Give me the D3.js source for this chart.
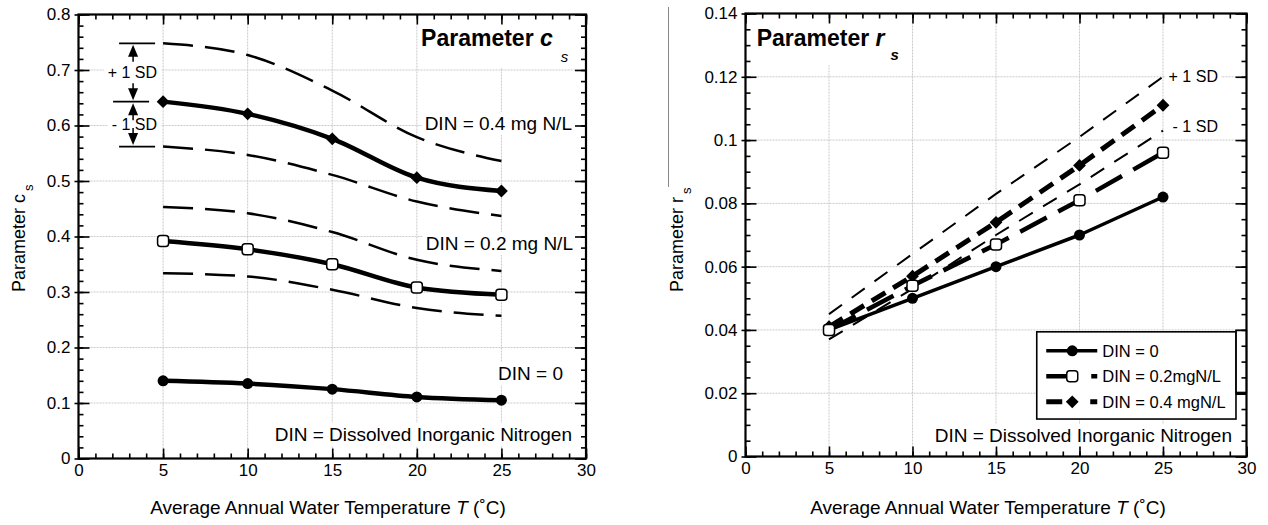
<!DOCTYPE html>
<html><head><meta charset="utf-8">
<script src="https://cdn.jsdelivr.net/npm/d3@7"></script>
<style>body{margin:0;background:#fff} svg{display:block;font-family:"Liberation Sans",Arial,Helvetica,sans-serif}</style>
</head><body><svg id="c" width="1268" height="525"></svg>
<script>
// ---------- data ----------
const temps = [5, 10, 15, 20, 25];
const xTicks = [0, 5, 10, 15, 20, 25, 30];
const xTickLabels = ["0", "5", "10", "15", "20", "25", "30"];

// Parameter c_s
const csTicks = [0, 0.1, 0.2, 0.3, 0.4, 0.5, 0.6, 0.7, 0.8];
const csTickLabels = ["0", "0.1", "0.2", "0.3", "0.4", "0.5", "0.6", "0.7", "0.8"];
const cs_din0 = [0.140, 0.135, 0.125, 0.111, 0.105];
const cs_din02 = [0.392, 0.377, 0.350, 0.308, 0.295];
const cs_din02_hi = [0.453, 0.442, 0.408, 0.358, 0.338];
const cs_din02_lo = [0.334, 0.328, 0.304, 0.271, 0.257];
const cs_din04 = [0.643, 0.621, 0.576, 0.506, 0.482];
const cs_din04_hi = [0.748, 0.727, 0.663, 0.579, 0.536];
const cs_din04_lo = [0.562, 0.547, 0.511, 0.463, 0.437];

// Parameter r_s
const rsTicks = [0, 0.02, 0.04, 0.06, 0.08, 0.1, 0.12, 0.14];
const rsTickLabels = ["0", "0.02", "0.04", "0.06", "0.08", "0.1", "0.12", "0.14"];
const rs_din0 = [0.040, 0.050, 0.060, 0.070, 0.082];
const rs_din02 = [0.040, 0.054, 0.067, 0.081, 0.096];
const rs_din04 = [0.041, 0.057, 0.074, 0.092, 0.111];
const rs_din04_hi = [0.045, 0.064, 0.083, 0.101, 0.120];
const rs_din04_lo = [0.037, 0.053, 0.070, 0.086, 0.103];
const legendLabels = ["DIN = 0", "DIN = 0.2mgN/L", "DIN = 0.4 mgN/L"];

// ---------- drawing ----------
const svg = d3.select("#c");
const FONT = '"Liberation Sans",Arial,Helvetica,sans-serif';

function panel(o) {
  const x = d3.scaleLinear().domain([0, 30]).range([o.x0, o.x1]);
  const y = d3.scaleLinear().domain([0, o.ymax]).range([o.y1, o.y0]);
  const g = svg.append("g");
  const grid = g.append("g").attr("stroke", "#c9c9c9").attr("stroke-width", 1).attr("stroke-dasharray", "2,1");
  grid.selectAll("line.v").data(xTicks.slice(1, -1)).join("line")
    .attr("x1", d => x(d)).attr("x2", d => x(d)).attr("y1", o.y0).attr("y2", o.y1);
  grid.selectAll("line.h").data(o.yTicks.slice(1, -1)).join("line")
    .attr("y1", d => y(d)).attr("y2", d => y(d)).attr("x1", o.x0).attr("x2", o.x1);
  const layers = {
    bg: g.append("g"), data: g.append("g"), marks: g.append("g"), text: g.append("g"), axes: g.append("g")
  };
  return { g, x, y, o, ...layers };
}

function axes(p, yTicks, yLabels, yMinor) {
  const { x, y, o } = p;
  const xMinor = d3.range(0, 31, 1);
  const A = p.axes;
  const style = sel => { sel.select(".domain").remove(); sel.selectAll("line").attr("stroke", "#000").attr("stroke-width", 1.6);
    sel.attr("font-family", FONT).attr("font-size", 17); sel.selectAll("text").attr("fill", "#000"); };
  // bottom
  A.append("g").attr("transform", `translate(0,${o.y1})`)
    .call(d3.axisBottom(x).tickValues(xMinor).tickSizeInner(-5).tickSizeOuter(0).tickFormat(""))
    .call(style);
  A.append("g").attr("transform", `translate(0,${o.y1})`)
    .call(d3.axisBottom(x).tickValues(xTicks).tickSizeInner(-10).tickSizeOuter(0).tickPadding(5)
      .tickFormat((d, i) => xTickLabels[i]))
    .call(style);
  // top
  A.append("g").attr("transform", `translate(0,${o.y0})`)
    .call(d3.axisTop(x).tickValues(xMinor).tickSizeInner(-5).tickSizeOuter(0).tickFormat("")).call(style);
  A.append("g").attr("transform", `translate(0,${o.y0})`)
    .call(d3.axisTop(x).tickValues(xTicks).tickSizeInner(-10).tickSizeOuter(0).tickFormat("")).call(style);
  // left
  A.append("g").attr("transform", `translate(${o.x0},0)`)
    .call(d3.axisLeft(y).tickValues(yMinor).tickSizeInner(-5).tickSizeOuter(0).tickFormat("")).call(style);
  A.append("g").attr("transform", `translate(${o.x0},0)`)
    .call(d3.axisLeft(y).tickValues(yTicks).tickSizeInner(-11).tickSizeOuter(0).tickPadding(8)
      .tickFormat((d, i) => yLabels[i]))
    .call(style);
  A.append("g").attr("transform", `translate(${o.x0},0)`)
    .call(d3.axisLeft(y).tickValues(yTicks).tickSizeInner(4).tickSizeOuter(0).tickFormat("")).call(style);
  // right
  A.append("g").attr("transform", `translate(${o.x1},0)`)
    .call(d3.axisRight(y).tickValues(yMinor).tickSizeInner(-5).tickSizeOuter(0).tickFormat("")).call(style);
  A.append("g").attr("transform", `translate(${o.x1},0)`)
    .call(d3.axisRight(y).tickValues(yTicks).tickSizeInner(-11).tickSizeOuter(0).tickFormat("")).call(style);
  A.append("rect").attr("x", o.x0).attr("y", o.y0).attr("width", o.x1 - o.x0).attr("height", o.y1 - o.y0)
    .attr("fill", "none").attr("stroke", "#000").attr("stroke-width", 2.2);
}

function label(p, xs, ys, parts, opt) {
  const t = p.text.append("text").attr("x", xs).attr("y", ys).attr("font-size", opt.size || 19)
    .attr("text-anchor", opt.anchor || "start").attr("fill", "#000");
  parts.forEach(pt => {
    const ts = t.append("tspan").text(pt.t);
    if (pt.w) ts.attr("font-weight", pt.w);
    if (pt.i) ts.attr("font-style", "italic");
    if (pt.s) ts.attr("font-size", pt.s);
    if (pt.dy) ts.attr("dy", pt.dy);
    if (pt.dx) ts.attr("dx", pt.dx);
  });
  const b = t.node().getBBox();
  const pad = opt.pad || [3, 1];
  p.bg.append("rect").attr("x", b.x - pad[0]).attr("y", b.y - pad[1])
    .attr("width", b.width + 2 * pad[0]).attr("height", b.height + 2 * pad[1]).attr("fill", "#fff");
  return t;
}

function series(p, vals, st, curve) {
  const line = d3.line().x((d, i) => p.x(temps[i])).y(d => p.y(d)).curve(curve);
  p.data.append("path").attr("d", line(vals)).attr("fill", "none").attr("stroke", "#000")
    .attr("stroke-width", st.w).attr("stroke-dasharray", st.dash || null).attr("stroke-linejoin", "round");
}

function marker(sel, type, cx, cy) {
  if (type === "circle") sel.append("circle").attr("cx", cx).attr("cy", cy).attr("r", 5.5).attr("fill", "#000");
  else if (type === "diamond") sel.append("path").attr("d", d3.symbol(d3.symbolSquare, 82)())
    .attr("transform", `translate(${cx},${cy}) rotate(45)`).attr("fill", "#000");
  else sel.append("rect").attr("x", cx - 5.5).attr("y", cy - 5.5).attr("width", 11).attr("height", 11).attr("rx", 3)
    .attr("fill", "#fff").attr("stroke", "#000").attr("stroke-width", 1.5);
}
function markers(p, vals, type) {
  vals.forEach((v, i) => marker(p.marks, type, p.x(temps[i]), p.y(v)));
}

// ===== Left panel: Parameter c_s =====
const L = panel({ x0: 78.5, x1: 586, y0: 14.5, y1: 458.5, ymax: 0.8, yTicks: csTicks });
const smooth = d3.curveMonotoneX;
const sd = { w: 2.5, dash: "30,12" };
series(L, cs_din04_hi, sd, smooth); series(L, cs_din04_lo, sd, smooth);
series(L, cs_din02_hi, sd, smooth); series(L, cs_din02_lo, sd, smooth);
series(L, cs_din04, { w: 4.5 }, smooth);
series(L, cs_din02, { w: 4.5 }, smooth);
series(L, cs_din0, { w: 4.5 }, smooth);
markers(L, cs_din04, "diamond"); markers(L, cs_din02, "square"); markers(L, cs_din0, "circle");

label(L, L.x(20.25), L.y(0.7438), [{ t: "Parameter ", w: "bold" }, { t: "c", w: "bold", i: 1 }, { t: "s", i: 1, s: 15, dy: 16, dx: 8 }],
  { size: 23, pad: [2, 3] });
label(L, L.x(29.17), L.y(0.592), [{ t: "DIN = 0.4 mg N/L" }], { anchor: "end" });
label(L, L.x(29.23), L.y(0.3757), [{ t: "DIN = 0.2 mg N/L" }], { anchor: "end" });
label(L, L.x(28.64), L.y(0.1414), [{ t: "DIN = 0" }], { anchor: "end" });
label(L, L.x(29.17), L.y(0.0315), [{ t: "DIN = Dissolved Inorganic Nitrogen" }], { anchor: "end" });

// SD annotation at T = 5
(function () {
  const x5 = L.x(temps[0]);
  const yTop = L.y(cs_din04_hi[0]), yMid = L.y(cs_din04[0]), yLow = L.y(cs_din04_lo[0]);
  const A = L.marks.append("g").attr("stroke", "#000").attr("fill", "#000");
  A.append("line").attr("x1", x5 - 44).attr("x2", x5 - 8).attr("y1", yTop).attr("y2", yTop).attr("stroke-width", 1.8);
  A.append("line").attr("x1", x5 - 50).attr("x2", x5 - 14).attr("y1", yMid).attr("y2", yMid).attr("stroke-width", 1.8);
  A.append("line").attr("x1", x5 - 44).attr("x2", x5 - 8).attr("y1", yLow).attr("y2", yLow).attr("stroke-width", 1.8);
  const ax = x5 - 30;
  const up = tip => { A.append("path").attr("d", `M${ax},${tip}L${ax - 5},${tip + 12}L${ax + 5},${tip + 12}Z`).attr("stroke", "none");
    A.append("line").attr("x1", ax).attr("x2", ax).attr("y1", tip + 10).attr("y2", tip + 17).attr("stroke-width", 1.5); };
  const down = tip => { A.append("path").attr("d", `M${ax},${tip}L${ax - 5},${tip - 12}L${ax + 5},${tip - 12}Z`).attr("stroke", "none");
    A.append("line").attr("x1", ax).attr("x2", ax).attr("y1", tip - 10).attr("y2", tip - 17).attr("stroke-width", 1.5); };
  up(yTop + 1.5); down(yMid - 1.5); up(yMid + 1.5); down(yLow - 1.5);
  label(L, x5 - 6, (yTop + yMid) / 2 + 5.8, [{ t: "+ 1 SD" }], { anchor: "end", size: 16, pad: [4, 1] });
  label(L, x5 - 6, (yMid + yLow) / 2 + 5.8, [{ t: "- 1 SD" }], { anchor: "end", size: 16, pad: [4, 1] });
})();

axes(L, csTicks, csTickLabels, d3.range(0, 41).map(i => i * 0.02));
svg.append("text").attr("transform", "translate(25,292) rotate(-90)").attr("font-size", 18).attr("fill", "#000")
  .call(t => { t.append("tspan").text("Parameter c"); t.append("tspan").text("s").attr("font-size", 13).attr("dx", 3).attr("dy", 8); });
svg.append("text").attr("x", 328).attr("y", 514).attr("text-anchor", "middle").attr("font-size", 19).attr("fill", "#000")
  .call(t => { t.append("tspan").text("Average Annual Water Temperature "); t.append("tspan").text("T").attr("font-style", "italic");
    t.append("tspan").text(" (˚C)"); });

// ===== Right panel: Parameter r_s =====
const R = panel({ x0: 745.5, x1: 1246.5, y0: 13.5, y1: 456.5, ymax: 0.14, yTicks: rsTicks });
const lin = d3.curveLinear;
const st0 = { w: 3.5 }, st02 = { w: 4.5, dash: "30,13" }, st04 = { w: 5, dash: "16,9" }, stsd = { w: 2, dash: "16,12" };
series(R, rs_din04_hi, stsd, lin); series(R, rs_din04_lo, stsd, lin);
series(R, rs_din0, st0, lin);
series(R, rs_din02, st02, lin);
series(R, rs_din04, st04, lin);
markers(R, rs_din0, "circle"); markers(R, rs_din04, "diamond"); markers(R, rs_din02, "square");

label(R, R.x(0.67), R.y(0.1297), [{ t: "Parameter ", w: "bold" }, { t: "r", w: "bold", i: 1 }, { t: "s", w: "bold", i: 1, s: 15, dy: 14, dx: 6 }],
  { size: 23, pad: [8, 2] });
label(R, R.x(28.29), R.y(0.1183), [{ t: "+ 1 SD" }], { anchor: "end", size: 16, pad: [3, 3] });
label(R, R.x(28.29), R.y(0.1025), [{ t: "- 1 SD" }], { anchor: "end", size: 16, pad: [3, 3] });
label(R, R.x(29.13), R.y(0.00458), [{ t: "DIN = Dissolved Inorganic Nitrogen" }], { anchor: "end" });

// legend
(function () {
  const lx0 = R.x(17.44), lx1 = R.x(29.37), ly0 = R.y(0.0394), ly1 = R.y(0.01184);
  const G = R.text.append("g");
  G.append("rect").attr("x", lx0).attr("y", ly0).attr("width", lx1 - lx0).attr("height", ly1 - ly0)
    .attr("fill", "#fff").attr("stroke", "#000").attr("stroke-width", 1.6);
  const types = ["circle", "square", "diamond"];
  const dashes = [null, "21,24,6,100", "16,28,7,100"];
  const widths = [3.5, 4.5, 5];
  legendLabels.forEach((lab, i) => {
    const cy = ly0 + 19 + i * 25.5;
    G.append("line").attr("x1", lx0 + 9.5).attr("x2", lx0 + 60.5).attr("y1", cy).attr("y2", cy)
      .attr("stroke", "#000").attr("stroke-width", widths[i]).attr("stroke-dasharray", dashes[i]);
    marker(G, types[i], lx0 + 35.5, cy);
    G.append("text").attr("x", lx0 + 65.5).attr("y", cy + 6).attr("font-size", 16.5).attr("fill", "#000").text(lab);
  });
  G.append("rect").attr("x", lx1).attr("y", ly0 - 1.5).attr("width", R.o.x1 - lx1).attr("height", 62)
    .attr("fill", "none").attr("stroke", "#000").attr("stroke-width", 1.3);
  G.append("line").attr("x1", lx1).attr("x2", R.o.x1).attr("y1", ly0 + 62.5).attr("y2", ly0 + 62.5)
    .attr("stroke", "#000").attr("stroke-width", 1.3);
})();

axes(R, rsTicks, rsTickLabels, d3.range(0, 29).map(i => i * 0.005));
svg.append("line").attr("x1", 668.5).attr("x2", 668.5).attr("y1", 7).attr("y2", 187).attr("stroke", "#888").attr("stroke-width", 1);
svg.append("text").attr("transform", "translate(683,292) rotate(-90)").attr("font-size", 18).attr("fill", "#000")
  .call(t => { t.append("tspan").text("Parameter r"); t.append("tspan").text("s").attr("font-size", 13).attr("dx", 3).attr("dy", 8); });
svg.append("text").attr("x", 988).attr("y", 514).attr("text-anchor", "middle").attr("font-size", 19).attr("fill", "#000")
  .call(t => { t.append("tspan").text("Average Annual Water Temperature "); t.append("tspan").text("T").attr("font-style", "italic");
    t.append("tspan").text(" (˚C)"); });
</script></body></html>
